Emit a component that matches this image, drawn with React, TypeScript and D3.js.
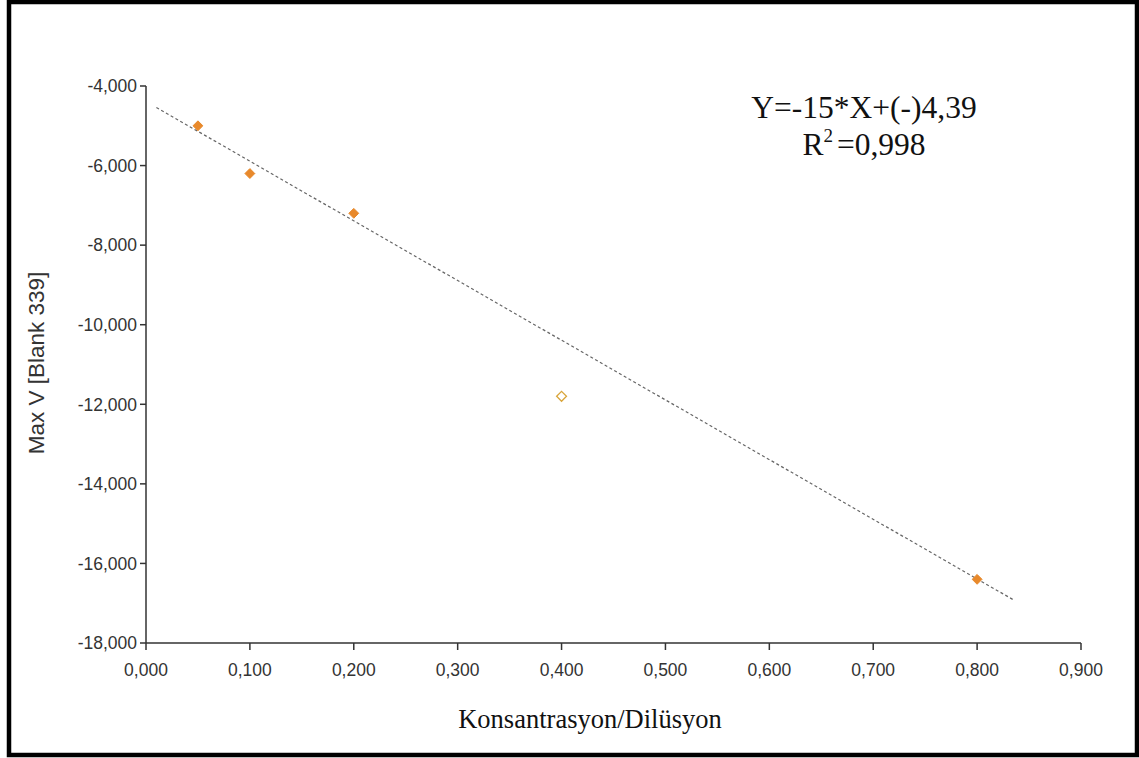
import React from "react";
import * as d3 from "d3";

const xTicks = [0, 0.1, 0.2, 0.3, 0.4, 0.5, 0.6, 0.7, 0.8, 0.9];
const yTicks = [-4000, -6000, -8000, -10000, -12000, -14000, -16000, -18000];
const xValues = [0.05, 0.1, 0.2, 0.4, 0.8];
const yValues = [-5000, -6200, -7200, -11800, -16400];
const excluded = [false, false, false, true, false];
const trendSlope = -15000;
const trendIntercept = -4390;
const trendRange = [0.01, 0.835];
const equationLines = ["Y=-15*X+(-)4,39", "=0,998"];
const xTitle = "Konsantrasyon/Dilüsyon";
const yTitle = "Max V [Blank 339]";

const W = 1139;
const H = 758;

const locale = d3.formatLocale({
  decimal: ",",
  thousands: ",",
  grouping: [3],
  currency: ["", ""],
  minus: "-",
});

export default function App() {
  const x = d3.scaleLinear().domain([0, 0.9]).range([146, 1081]);
  const y = d3.scaleLinear().domain([-4000, -18000]).range([86, 643]);
  const fmtX = locale.format(".3f");
  const fmtY = locale.format(",.0f");
  const trend = d3
    .line<number>()
    .x((d) => x(d))
    .y((d) => y(trendSlope * d + trendIntercept))(trendRange);
  const diamond = d3.symbol().type((d3 as any).symbolDiamond2 ?? d3.symbolDiamond).size(62)();
  const font = "'Liberation Sans', Arial, sans-serif";
  const serif = "'Liberation Serif', 'Times New Roman', serif";
  return (
    <svg
      width={W}
      height={H}
      style={{ position: "absolute", left: 0, top: 0, background: "#fff" }}
    >
      <rect x={0} y={0} width={W} height={H} fill="#fff" />
      <rect x={9} y={2} width={1128} height={753} fill="none" stroke="#000" strokeWidth={4.5} />
      {/* axes */}
      <line x1={x(0)} x2={x(0)} y1={y(-4000)} y2={y(-18000)} stroke="#333" strokeWidth={1.5} />
      <line x1={x(0)} x2={x(0.9)} y1={y(-18000)} y2={y(-18000)} stroke="#333" strokeWidth={1.5} />
      {yTicks.map((t) => (
        <g key={t}>
          <line x1={x(0) - 6} x2={x(0)} y1={y(t)} y2={y(t)} stroke="#333" strokeWidth={1.5} />
          <text
            x={x(0) - 9}
            y={y(t)}
            dy="0.36em"
            textAnchor="end"
            fontFamily={font}
            fontSize={17.5}
            fill="#333"
          >
            {fmtY(t)}
          </text>
        </g>
      ))}
      {xTicks.map((t) => (
        <g key={t}>
          <line x1={x(t)} x2={x(t)} y1={y(-18000)} y2={y(-18000) + 7} stroke="#333" strokeWidth={1.5} />
          <text
            x={x(t)}
            y={y(-18000) + 33}
            textAnchor="middle"
            fontFamily={font}
            fontSize={17.5}
            fill="#333"
          >
            {fmtX(t)}
          </text>
        </g>
      ))}
      {/* trend line */}
      <path d={trend ?? ""} fill="none" stroke="#666" strokeWidth={1.2} strokeDasharray="3,2.5" />
      {/* points */}
      {xValues.map((xv, i) => (
        <path
          key={i}
          d={diamond ?? ""}
          transform={`translate(${x(xv)},${y(yValues[i])})`}
          fill={excluded[i] ? "#fff" : "#E8892B"}
          stroke={excluded[i] ? "#D9A53A" : "#E8892B"}
          strokeWidth={excluded[i] ? 1.3 : 1}
        />
      ))}
      {/* equation */}
      <text x={864} y={118} textAnchor="middle" fontFamily={serif} fontSize={31.5} fill="#111">
        {equationLines[0]}
      </text>
      <text x={864} y={155} textAnchor="middle" fontFamily={serif} fontSize={31.5} fill="#111">
        <tspan>R</tspan>
        <tspan fontSize={19} dy={-13}>2</tspan>
        <tspan dy={13} dx={4}>{equationLines[1]}</tspan>
      </text>
      {/* titles */}
      <text x={590} y={728} textAnchor="middle" fontFamily={serif} fontSize={26.5} fill="#111">
        {xTitle}
      </text>
      <text
        transform={`translate(44,363) rotate(-90)`}
        textAnchor="middle"
        fontFamily={font}
        fontSize={22.5}
        fill="#333"
      >
        {yTitle}
      </text>
    </svg>
  );
}
